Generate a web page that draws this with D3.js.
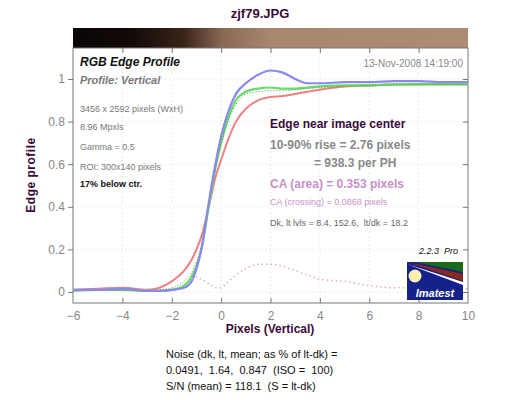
<!DOCTYPE html>
<html><head><meta charset="utf-8">
<script src="https://cdn.jsdelivr.net/npm/d3@7"></script>
<style>body{margin:0;background:#fff}svg{font-family:Arial,"Liberation Sans",sans-serif}text{white-space:pre}</style>
</head><body><svg id="c" width="520" height="400"></svg>
<script>
const xs = [-6,-5,-4,-3,-2.5,-2,-1.5,-1.2,-1,-0.8,-0.5,-0.2,0,0.3,0.6,1,1.5,2,2.5,3,3.5,4,5,6,7,8,9,10];
const blue  = [0.01,0.01,0.015,0.005,0.005,0.01,0.02,0.05,0.11,0.2,0.42,0.62,0.73,0.85,0.93,0.98,1.02,1.04,1.03,1.0,0.98,0.98,0.985,0.985,0.99,0.99,0.985,0.985];
const red   = [0.01,0.015,0.02,0.01,0.02,0.05,0.1,0.15,0.2,0.26,0.4,0.55,0.62,0.72,0.8,0.86,0.9,0.915,0.92,0.93,0.94,0.95,0.965,0.97,0.975,0.975,0.975,0.975];
const green = [0.005,0.01,0.01,0.005,0.005,0.01,0.03,0.07,0.12,0.2,0.4,0.6,0.7,0.82,0.9,0.94,0.955,0.96,0.955,0.955,0.96,0.965,0.97,0.97,0.975,0.975,0.975,0.975];
const ref   = [0.005,0.01,0.01,0.005,0.01,0.02,0.05,0.09,0.14,0.22,0.41,0.6,0.7,0.81,0.88,0.93,0.94,0.945,0.945,0.95,0.955,0.96,0.965,0.97,0.97,0.975,0.975,0.975];
const ca    = [null,null,null,null,null,null,null,0.06,0.07,0.06,0.04,0.02,0.02,0.05,0.08,0.11,0.13,0.13,0.12,0.1,0.08,0.06,0.05,0.03,0.02,0.02,0.015,0.015];
const xTicks = [-6,-4,-2,0,2,4,6,8,10];
const yTicks = [0,0.2,0.4,0.6,0.8,1];

const svg = d3.select("#c");
const x = d3.scaleLinear().domain([-6,10]).range([73,468]);
const y = d3.scaleLinear().domain([0,1]).range([292,79]);
const yTop = 48, yBot = 303;

svg.append("text").attr("x",260).attr("y",18).attr("text-anchor","middle")
  .attr("font-size",13).attr("font-weight","bold").attr("fill","#3a0a3a").text("zjf79.JPG");

// gradient bar
const g = svg.append("defs").append("linearGradient").attr("id","gr");
[[0,"#0a0606"],[0.15,"#120a08"],[0.28,"#3a2418"],[0.38,"#8a6a55"],[0.5,"#a88670"],[1,"#ad8b74"]]
  .forEach(([o,c])=>g.append("stop").attr("offset",o).attr("stop-color",c));
svg.append("rect").attr("x",73).attr("y",28).attr("width",395).attr("height",20).attr("fill","url(#gr)");

// grid
svg.append("g").selectAll("line").data(xTicks.slice(1,-1)).join("line")
  .attr("x1",d=>x(d)).attr("x2",d=>x(d)).attr("y1",yTop).attr("y2",yBot)
  .attr("stroke","#ddd").attr("stroke-dasharray","1,3");
svg.append("g").selectAll("line").data(yTicks).join("line")
  .attr("x1",73).attr("x2",468).attr("y1",d=>y(d)).attr("y2",d=>y(d))
  .attr("stroke","#ddd").attr("stroke-dasharray","1,3");

svg.append("rect").attr("x",73).attr("y",yTop).attr("width",395).attr("height",yBot-yTop)
  .attr("fill","none").attr("stroke","#777");

const xa = svg.append("g").attr("transform",`translate(0,${yBot})`)
  .call(d3.axisBottom(x).tickValues(xTicks).tickSize(0).tickPadding(8));
const ya = svg.append("g").attr("transform","translate(73,0)")
  .call(d3.axisLeft(y).tickValues(yTicks).tickSize(5).tickFormat(d3.format("~g")));
const yr = svg.append("g").attr("transform","translate(468,0)")
  .call(d3.axisLeft(y).tickValues(yTicks).tickSize(5).tickFormat(""));
const xt = svg.append("g").attr("transform",`translate(0,${yTop})`)
  .call(d3.axisBottom(x).tickValues(xTicks.slice(1,-1)).tickSize(5).tickFormat(""));
const xb = svg.append("g").attr("transform",`translate(0,${yBot})`)
  .call(d3.axisTop(x).tickValues(xTicks.slice(1,-1)).tickSize(5).tickFormat(""));
[xa,ya,yr,xt,xb].forEach(a=>{a.select(".domain").remove();a.selectAll("line").attr("stroke","#777");
  a.selectAll("text").attr("font-size",12).attr("fill","#888").attr("font-family","Arial");});

const line = d=>d3.line().defined(v=>v!=null).x((v,i)=>x(xs[i])).y(v=>y(v)).curve(d3.curveMonotoneX)(d);
svg.append("path").attr("d",line(red)).attr("fill","none").attr("stroke","#f08080").attr("stroke-width",2);
svg.append("path").attr("d",line(green)).attr("fill","none").attr("stroke","#66dd66").attr("stroke-width",2.2);
svg.append("path").attr("d",line(ref)).attr("fill","none").attr("stroke","#448844").attr("stroke-width",1).attr("stroke-dasharray","1,2");
svg.append("path").attr("d",line(blue)).attr("fill","none").attr("stroke","#8888ee").attr("stroke-width",2.2);
svg.append("path").attr("d",line(ca)).attr("fill","none").attr("stroke","#e0a8d8").attr("stroke-width",1.5).attr("stroke-dasharray","1.5,3");

const T=(tx,ty,s,o={})=>{const t=svg.append("text").attr("x",tx).attr("y",ty).text(s)
  .attr("font-size",o.fs||11).attr("fill",o.c||"#777").attr("font-weight",o.w||"normal");
  if(o.i)t.attr("font-style","italic"); if(o.a)t.attr("text-anchor",o.a); return t;};
T(80,66,"RGB Edge Profile",{fs:12,c:"#111",w:"bold",i:1});
T(80,84,"Profile: Vertical",{fs:11,c:"#777",w:"bold",i:1});
T(463,67,"13-Nov-2008 14:19:00",{fs:10,c:"#888",a:"end"});
T(80,112,"3456 x 2592 pixels (WxH)",{fs:9});
T(80,130,"8.96 Mpxls",{fs:9});
T(80,150,"Gamma = 0.5",{fs:9});
T(80,170,"ROI: 300x140 pixels",{fs:9});
T(80,187,"17% below ctr.",{fs:9,c:"#111",w:"bold"});
T(270,128,"Edge near image center",{fs:12,c:"#3a0a3a",w:"bold"});
T(270,149,"10-90% rise = 2.76 pixels",{fs:12,c:"#888",w:"bold"});
T(314,167,"= 938.3 per PH",{fs:12,c:"#888",w:"bold"});
T(270,188,"CA (area) = 0.353 pixels",{fs:12,c:"#c890c8",w:"bold"});
T(270,205,"CA (crossing) = 0.0868 pixels",{fs:9,c:"#c890c8"});
T(270,226,"Dk, lt lvls = 8.4, 152.6,  lt/dk = 18.2",{fs:9,c:"#666"});
T(458,254,"2.2.3  Pro",{fs:9,c:"#111",i:1,a:"end"});

// logo
const lg = svg.append("g");
lg.append("rect").attr("x",407).attr("y",262).attr("width",56).attr("height",38).attr("fill","#14218a");
lg.append("polygon").attr("points","415,262 463,262 463,272").attr("fill","#1a6a1a");
lg.append("polygon").attr("points","407,262 463,274 463,281").attr("fill","#8a2a1a");
lg.append("polygon").attr("points","407,264 463,282 463,285").attr("fill","#fff");
lg.append("circle").attr("cx",415).attr("cy",276).attr("r",6.5).attr("fill","#f8f0b0");
lg.append("text").attr("x",435).attr("y",297).attr("text-anchor","middle").attr("font-size",11)
  .attr("font-weight","bold").attr("font-style","italic").attr("fill","#fff").text("Imatest");

T(270,333,"Pixels (Vertical)",{fs:12,c:"#3a0a3a",w:"bold",a:"middle"});
svg.append("text").attr("transform","translate(35,175) rotate(-90)").attr("text-anchor","middle")
  .attr("font-size",12).attr("font-weight","bold").attr("fill","#3a0a3a").attr("letter-spacing",0.5).text("Edge profile");
T(166,358,"Noise (dk, lt, mean; as % of lt-dk) =",{fs:11,c:"#111"});
T(166,374,"0.0491,  1.64,  0.847  (ISO =  100)",{fs:11,c:"#111"});
T(166,390,"S/N (mean) = 118.1  (S = lt-dk)",{fs:11,c:"#111"});
</script></body></html>
